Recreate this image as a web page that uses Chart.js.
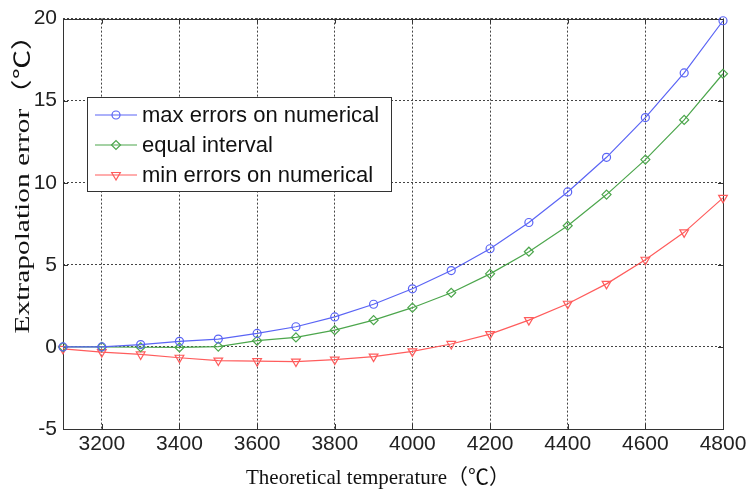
<!DOCTYPE html>
<html>
<head>
<meta charset="utf-8">
<script src="https://cdn.jsdelivr.net/npm/chart.js@4"></script>
<style>
  html, body { margin: 0; padding: 0; background: #fff; }
</style>
</head>
<body>
<canvas id="myChart" width="751" height="494"></canvas>
<script>
// datos
const temps = [3100, 3200, 3300, 3400, 3500, 3600, 3700, 3800, 3900, 4000, 4100, 4200, 4300, 4400, 4500, 4600, 4700, 4800];
const maxErrors = [0, 0, 0.14, 0.34, 0.48, 0.82, 1.23, 1.83, 2.6, 3.54, 4.65, 5.98, 7.58, 9.44, 11.55, 13.97, 16.69, 19.87];
const equalInterval = [0, 0, -0.02, -0.03, 0.02, 0.38, 0.58, 1.02, 1.63, 2.39, 3.3, 4.45, 5.8, 7.38, 9.28, 11.41, 13.83, 16.64];
const minErrors = [-0.12, -0.32, -0.46, -0.66, -0.83, -0.87, -0.89, -0.77, -0.59, -0.27, 0.18, 0.78, 1.63, 2.63, 3.84, 5.31, 6.98, 9.08];

const xTicks = [3200, 3400, 3600, 3800, 4000, 4200, 4400, 4600, 4800];
const yTicks = [-5, 0, 5, 10, 15, 20];
const seriesNames = ['max errors on numerical', 'equal interval', 'min errors on numerical'];
const xTitle = 'Theoretical temperature（℃）';
const yTitle = 'Extrapolation error（℃）';

const colors = ['#5a64f5', '#4ca64c', '#ff5c5c'];
const styles = [
  { pointStyle: 'circle', radius: 4, rotation: 0 },
  { pointStyle: 'rectRot', radius: 4.5, rotation: 0 },
  { pointStyle: 'triangle', radius: 5, rotation: 180 }
];

function makeSet(i, values) {
  return {
    label: seriesNames[i],
    data: temps.map((t, k) => ({ x: t, y: values[k] })),
    borderColor: colors[i],
    borderWidth: 1.2,
    pointStyle: styles[i].pointStyle,
    pointRadius: styles[i].radius,
    pointRotation: styles[i].rotation,
    pointBackgroundColor: 'rgba(0,0,0,0)',
    pointBorderColor: colors[i],
    pointBorderWidth: 1.2,
    tension: 0,
    clip: false
  };
}

// marco, leyenda y titulos dibujados a mano
const extras = {
  id: 'extras',
  beforeDatasetsDraw(chart) {
    const { ctx, chartArea: a, scales: { x, y } } = chart;
    ctx.save();
    ctx.strokeStyle = '#333';
    ctx.lineWidth = 1;
    ctx.setLineDash([]);
    ctx.strokeRect(Math.round(a.left) + 0.5, Math.round(a.top) + 0.5, Math.round(a.right - a.left), Math.round(a.bottom - a.top));
    ctx.beginPath();
    xTicks.forEach(v => {
      const px = Math.round(x.getPixelForValue(v)) + 0.5;
      ctx.moveTo(px, a.bottom); ctx.lineTo(px, a.bottom - 5);
      ctx.moveTo(px, a.top); ctx.lineTo(px, a.top + 5);
    });
    yTicks.forEach(v => {
      const py = Math.round(y.getPixelForValue(v)) + 0.5;
      ctx.moveTo(a.left, py); ctx.lineTo(a.left + 5, py);
      ctx.moveTo(a.right, py); ctx.lineTo(a.right - 5, py);
    });
    ctx.stroke();
    ctx.restore();
  },
  afterDraw(chart) {
    const ctx = chart.ctx;
    ctx.save();
    // leyenda
    ctx.fillStyle = '#fff';
    ctx.fillRect(87, 97, 304, 94);
    ctx.strokeStyle = '#333';
    ctx.lineWidth = 1;
    ctx.strokeRect(87.5, 97.5, 304, 94);
    const rows = [115, 145, 175];
    chart.data.datasets.forEach((ds, i) => {
      const ly = rows[i];
      ctx.strokeStyle = colors[i];
      ctx.lineWidth = 1.2;
      ctx.beginPath();
      ctx.moveTo(95, ly); ctx.lineTo(137, ly);
      ctx.stroke();
      ctx.fillStyle = 'rgba(0,0,0,0)';
      Chart.helpers.drawPoint(ctx, {
        pointStyle: styles[i].pointStyle,
        radius: styles[i].radius,
        rotation: styles[i].rotation,
        borderWidth: 1.2
      }, 116, ly);
      ctx.fillStyle = '#111';
      ctx.font = '22px "Liberation Sans", Arial, sans-serif';
      ctx.textAlign = 'left';
      ctx.textBaseline = 'middle';
      ctx.fillText(ds.label, 142, ly + 1);
    });
    // titulos de ejes
    ctx.fillStyle = '#111';
    ctx.font = '21px "Liberation Serif", "Noto Sans CJK SC", serif';
    ctx.textAlign = 'center';
    ctx.textBaseline = 'middle';
    let w = ctx.measureText(xTitle).width;
    ctx.save();
    ctx.translate(378, 478);
    ctx.scale(264 / w, 1);
    ctx.fillText(xTitle, 0, 0);
    ctx.restore();
    w = ctx.measureText(yTitle).width;
    ctx.save();
    ctx.translate(23.5, 177);
    ctx.rotate(-Math.PI / 2);
    ctx.scale(313 / w, 1);
    ctx.fillText(yTitle, 0, 0);
    ctx.restore();
    ctx.restore();
  }
};

const tickFont = { family: '"Liberation Sans", Arial, sans-serif', size: 21 };

new Chart('myChart', {
  type: 'line',
  data: {
    datasets: [makeSet(0, maxErrors), makeSet(1, equalInterval), makeSet(2, minErrors)]
  },
  options: {
    responsive: false,
    animation: false,
    devicePixelRatio: 1,
    layout: { padding: { top: 15, right: 28, left: 0, bottom: 0 } },
    plugins: { legend: { display: false }, tooltip: { enabled: false } },
    scales: {
      x: {
        type: 'linear',
        min: 3100,
        max: 4800,
        afterBuildTicks: s => { s.ticks = xTicks.map(v => ({ value: v })); },
        afterFit: s => { s.height = 65; },
        ticks: { font: tickFont, color: '#222', padding: 3, maxRotation: 0, autoSkip: false, callback: v => String(v) },
        grid: { color: '#444', lineWidth: 1, drawTicks: false },
        border: { display: false, dash: [2, 2] }
      },
      y: {
        type: 'linear',
        min: -5,
        max: 20,
        afterBuildTicks: s => { s.ticks = yTicks.map(v => ({ value: v })); },
        afterFit: s => { s.width = 63; },
        ticks: { font: tickFont, color: '#222', padding: 6, callback: v => String(v) },
        grid: { color: '#444', lineWidth: 1, drawTicks: false },
        border: { display: false, dash: [2, 2] }
      }
    }
  },
  plugins: [extras]
});
</script>
</body>
</html>
